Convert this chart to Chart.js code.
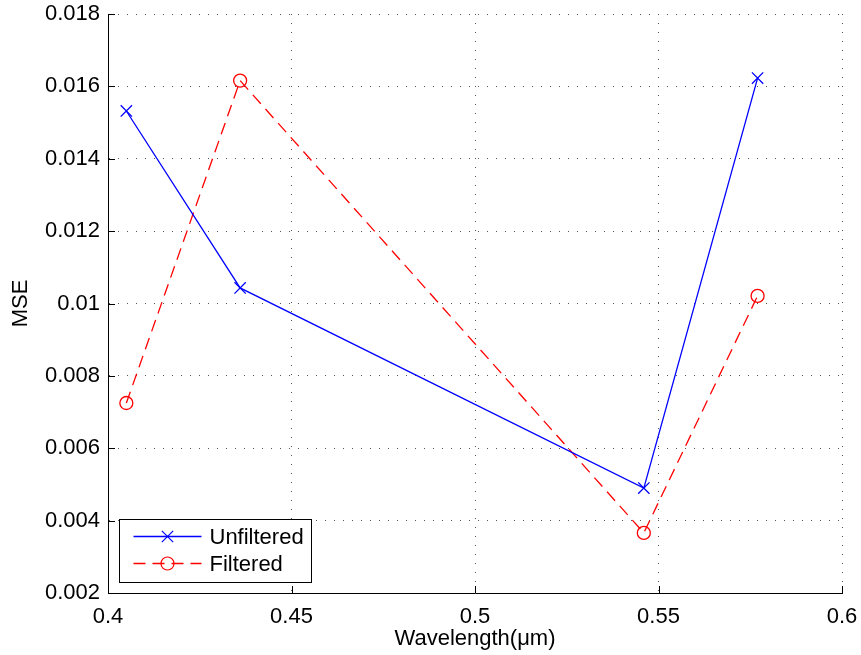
<!DOCTYPE html>
<html>
<head>
<meta charset="utf-8">
<script src="https://cdn.jsdelivr.net/npm/chart.js@4.4.1/dist/chart.umd.min.js"></script>
<style>
  html, body { margin: 0; padding: 0; background: #fff; }
  #wrap { width: 861px; height: 655px; }
</style>
</head>
<body>
<div id="wrap"><canvas id="c" width="861" height="655"></canvas></div>
<script>
// ---- data ----
const wavelengths = [0.405, 0.436, 0.546, 0.577];
const unfiltered = [0.01532, 0.01043, 0.0049, 0.01623];
const filtered = [0.00725, 0.01616, 0.00366, 0.01021];
const seriesNames = ['Unfiltered', 'Filtered'];
const xTickValues = [0.4, 0.45, 0.5, 0.55, 0.6];
const xTickLabels = ['0.4', '0.45', '0.5', '0.55', '0.6'];
const yTickValues = [0.002, 0.004, 0.006, 0.008, 0.01, 0.012, 0.014, 0.016, 0.018];
const yTickLabels = ['0.002', '0.004', '0.006', '0.008', '0.01', '0.012', '0.014', '0.016', '0.018'];
const xTitle = 'Wavelength(\u03bcm)';
const yTitle = 'MSE';

const FONT = "'Liberation Sans', Arial, Helvetica, sans-serif";
const FS = 22;

function labelFor(values, labels, v) {
  for (let i = 0; i < values.length; i++) if (Math.abs(values[i] - v) < 1e-9) return labels[i];
  return '';
}

const tickPlugin = {
  id: 'inwardTicks',
  afterDraw(chart) {
    const ctx = chart.ctx, ca = chart.chartArea;
    const xs = chart.scales.x, ys = chart.scales.y;
    ctx.save();
    ctx.strokeStyle = '#000';
    ctx.lineWidth = 1;
    ctx.beginPath();
    xTickValues.forEach(v => {
      const px = Math.round(xs.getPixelForValue(v)) + 0.5;
      ctx.moveTo(px, ca.bottom); ctx.lineTo(px, ca.bottom - 7);
    });
    yTickValues.forEach(v => {
      const py = Math.round(ys.getPixelForValue(v)) + 0.5;
      ctx.moveTo(ca.left, py); ctx.lineTo(ca.left + 7, py);
    });
    ctx.stroke();
    ctx.restore();
  }
};

const legendPlugin = {
  id: 'boxLegend',
  afterDatasetsDraw(chart) {
    const ctx = chart.ctx, ca = chart.chartArea;
    const bx = Math.round(ca.left + 11) + 0.5, by = Math.round(ca.bottom - 74) + 0.5, bw = 192, bh = 63;
    ctx.save();
    ctx.fillStyle = '#fff';
    ctx.fillRect(bx, by, bw, bh);
    ctx.strokeStyle = '#000';
    ctx.lineWidth = 1;
    ctx.setLineDash([]);
    ctx.strokeRect(bx, by, bw, bh);
    const rows = [by + 17, by + 44];
    chart.data.datasets.forEach((ds, i) => {
      const y = rows[i];
      ctx.strokeStyle = ds.borderColor;
      ctx.lineWidth = ds.borderWidth;
      ctx.setLineDash(ds.borderDash || []);
      ctx.beginPath();
      ctx.moveTo(bx + 14, y); ctx.lineTo(bx + 82, y);
      ctx.stroke();
      ctx.setLineDash([]);
      const mx = bx + 48;
      ctx.lineWidth = 1.2;
      ctx.beginPath();
      if (ds.pointStyle === 'circle') {
        ctx.arc(mx, y, ds.pointRadius, 0, Math.PI * 2);
      } else {
        const r = ds.pointRadius * 0.707;
        ctx.moveTo(mx - r, y - r); ctx.lineTo(mx + r, y + r);
        ctx.moveTo(mx + r, y - r); ctx.lineTo(mx - r, y + r);
      }
      ctx.stroke();
      ctx.fillStyle = '#000';
      ctx.font = FS + 'px ' + FONT;
      ctx.textBaseline = 'middle';
      ctx.textAlign = 'left';
      ctx.fillText(ds.label, bx + 90, y + 1);
    });
    ctx.restore();
  }
};

const toPts = arr => wavelengths.map((w, i) => ({ x: w, y: arr[i] }));

new Chart(document.getElementById('c'), {
  type: 'line',
  data: {
    datasets: [
      {
        label: seriesNames[0],
        data: toPts(unfiltered),
        borderColor: '#0000ff',
        borderWidth: 1.3,
        pointStyle: 'crossRot',
        pointRadius: 8,
        pointBorderColor: '#0000ff',
        pointBorderWidth: 1.3,
        pointBackgroundColor: 'rgba(0,0,0,0)',
        tension: 0,
        fill: false
      },
      {
        label: seriesNames[1],
        data: toPts(filtered),
        borderColor: '#ff0000',
        borderWidth: 1.3,
        borderDash: [12, 7],
        pointStyle: 'circle',
        pointRadius: 6.5,
        pointBorderColor: '#ff0000',
        pointBorderWidth: 1.3,
        pointBackgroundColor: 'rgba(0,0,0,0)',
        tension: 0,
        fill: false
      }
    ]
  },
  options: {
    responsive: false,
    animation: false,
    devicePixelRatio: 1,
    layout: { padding: { left: 0, top: 14, right: 19, bottom: 0 } },
    plugins: { legend: { display: false }, tooltip: { enabled: false } },
    scales: {
      x: {
        type: 'linear',
        min: 0.4, max: 0.6,
        afterBuildTicks: s => { s.ticks = xTickValues.map(v => ({ value: v })); },
        afterFit: s => { s.height = 62; s.paddingLeft = 0; s.paddingRight = 0; },
        ticks: {
          color: '#000',
          font: { family: FONT, size: FS },
          padding: 11,
          maxRotation: 0,
          callback: v => labelFor(xTickValues, xTickLabels, v)
        },
        grid: { color: '#555', lineWidth: 1, drawTicks: false },
        border: { display: true, color: '#000', width: 1, dash: [1, 8] },
        title: {
          display: true, text: xTitle, color: '#000',
          font: { family: FONT, size: FS },
          padding: { top: 0, bottom: 3 }
        }
      },
      y: {
        type: 'linear',
        min: 0.002, max: 0.018,
        afterBuildTicks: s => { s.ticks = yTickValues.map(v => ({ value: v })); },
        afterFit: s => { s.width = 108; s.paddingTop = 0; s.paddingBottom = 0; },
        ticks: {
          color: '#000',
          font: { family: FONT, size: FS },
          padding: 8,
          callback: v => labelFor(yTickValues, yTickLabels, v)
        },
        grid: { color: '#555', lineWidth: 1, drawTicks: false },
        border: { display: true, color: '#000', width: 1, dash: [1, 8] },
        title: {
          display: true, text: yTitle, color: '#000',
          font: { family: FONT, size: FS },
          padding: { top: 8, bottom: 0 }
        }
      }
    }
  },
  plugins: [tickPlugin, legendPlugin]
});
</script>
</body>
</html>
